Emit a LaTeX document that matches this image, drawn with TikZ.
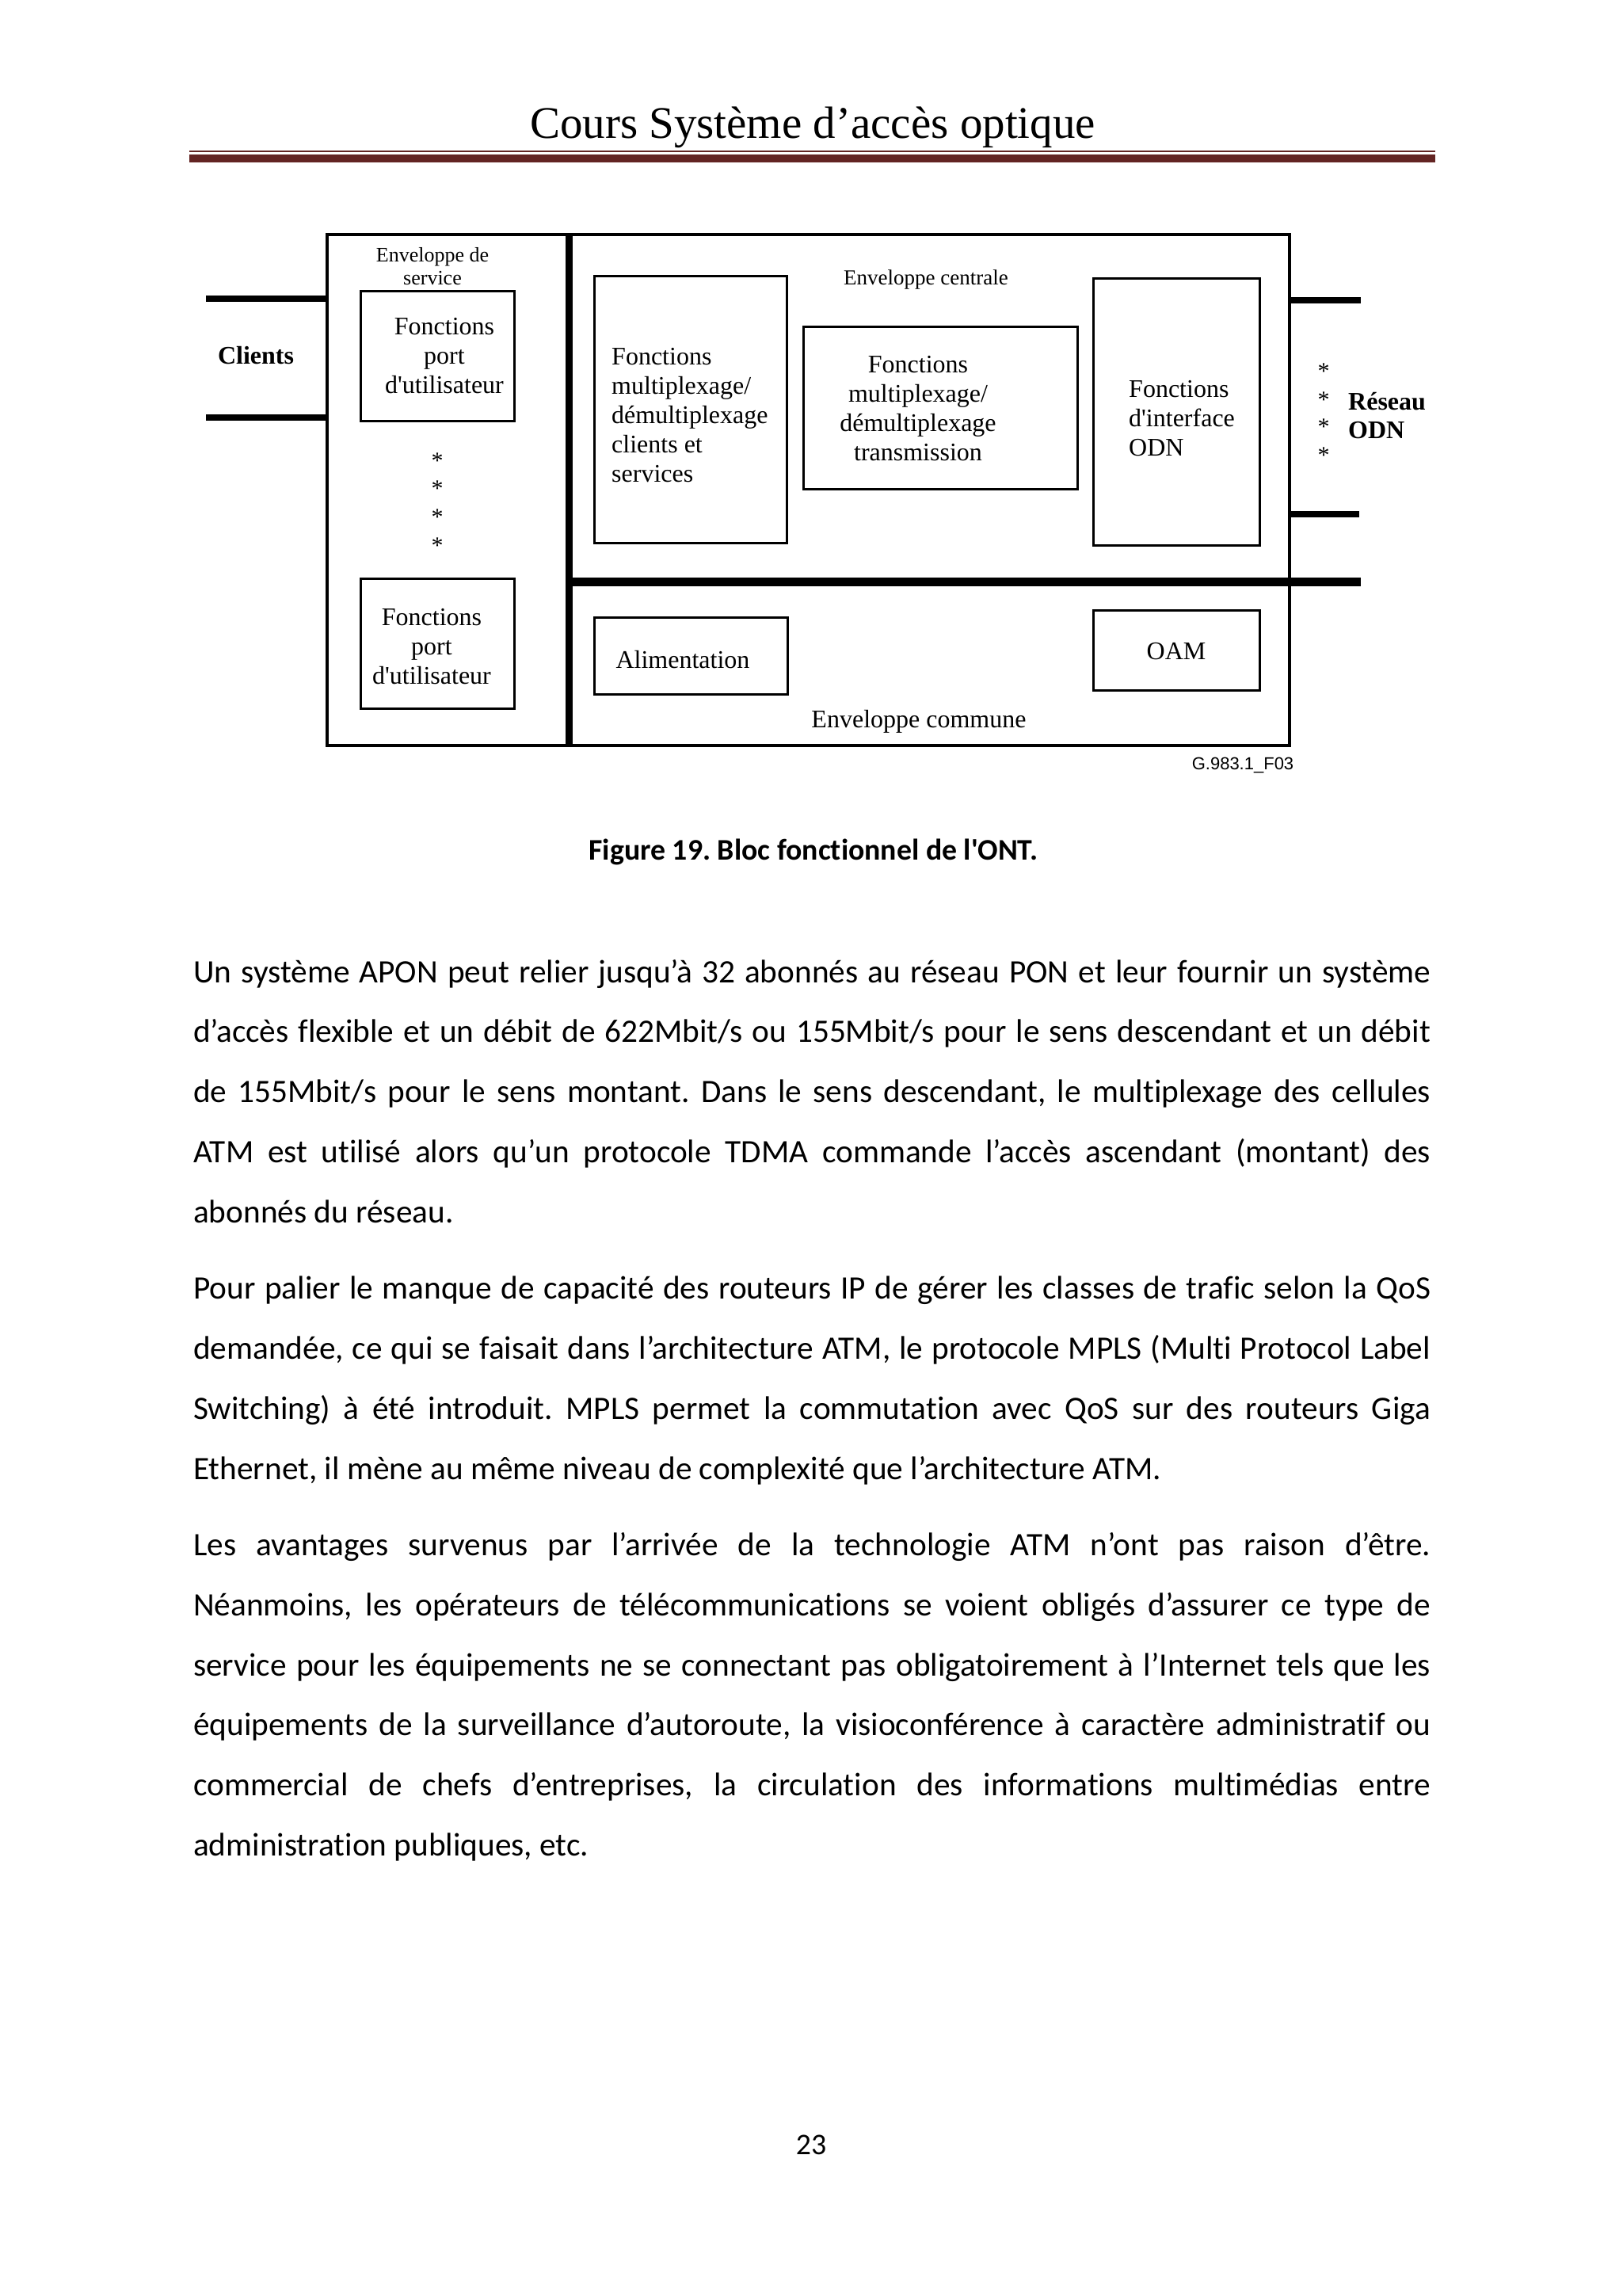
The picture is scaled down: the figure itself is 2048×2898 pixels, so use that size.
\documentclass[tikz,border=0pt]{standalone}
\usepackage{fontspec}
\setmainfont{Carlito}
\newfontfamily\calfont{Carlito}[Ligatures=NoCommon]
\newfontfamily\tnr{Liberation Serif}
\newfontfamily\arl{Liberation Sans}
\definecolor{hdrred}{HTML}{632423}
\begin{document}
\frenchspacing
\begin{tikzpicture}[x=1pt,y=-1pt,
  fbox/.style={draw=black, line width=3pt, inner sep=0pt},
  bar/.style={line width=8pt},
  dtext/.style={font=\tnr\fontsize{32}{37}\selectfont, inner sep=0pt},
  dbold/.style={font=\tnr\bfseries\fontsize{32}{36}\selectfont, inner sep=0pt},
  stardot/.style={font=\tnr\fontsize{30}{30}\selectfont, inner sep=0pt, anchor=base},
  bline/.style={font=\calfont\fontsize{41.3}{50}\selectfont, inner sep=0pt, anchor=base west},
]
\useasboundingbox (0,0) rectangle (2048,2898);
\fill[white] (0,0) rectangle (2048,2898);

% ---------- header ----------
\node[font=\tnr\fontsize{57}{60}\selectfont, inner sep=0pt, anchor=base] (title) at (1026,175) {Cours Système d’accès optique};
\coordinate (rl) at (239,191); \coordinate (rr) at (1812,191);
\draw[hdrred, line width=2.5pt] (rl) -- (rr);
\coordinate (Rl) at (239,200); \coordinate (Rr) at (1812,200);
\draw[hdrred, line width=10pt] (Rl) -- (Rr);

% ---------- diagram ----------
\node[draw=black, line width=4pt, inner sep=0pt, minimum width=1215pt, minimum height=645pt] (outer) at (1020.5,618.5) {};
\coordinate (dtop) at (718,296); \coordinate (dbot) at (718,941);
\draw[line width=9pt] (dtop) -- (dbot);
\coordinate (hl) at (718,734); \coordinate (hr) at (1718,734);
\draw[line width=11pt] (hl) -- (hr);

% client stubs
\coordinate (c1) at (260,377); \coordinate (c2) at (260,527);
\draw[bar] (c1) -- (c1 -| outer.west);
\draw[bar] (c2) -- (c2 -| outer.west);
% network stubs
\coordinate (r1) at (1718,379); \coordinate (r2) at (1716,649);
\draw[bar] (r1 -| outer.east) -- (r1);
\draw[bar] (r2 -| outer.east) -- (r2);

% boxes
\node[fbox, minimum width=194pt, minimum height=164pt] (up1) at (552,449) {};
\node[fbox, minimum width=194pt, minimum height=164pt] (up2) at (552,812) {};
\node[fbox, minimum width=243pt, minimum height=337pt] (muxc) at (871.5,516.5) {};
\node[fbox, minimum width=346pt, minimum height=205pt] (muxt) at (1187,514.5) {};
\node[fbox, minimum width=210pt, minimum height=337pt] (odni) at (1485,519.5) {};
\node[fbox, minimum width=244pt, minimum height=97pt] (alim) at (872,827.5) {};
\node[fbox, minimum width=210pt, minimum height=101pt] (oam) at (1485,820.5) {};

% texts
\node[dbold] (clients) at (323,449) {Clients};
\node[font=\tnr\fontsize{26}{29}\selectfont, inner sep=0pt, align=center] (envs) at (546,336) {Enveloppe de\\service};
\node[dtext, align=center] (up1t) at (561,449) {Fonctions\\port\\d'utilisateur};
\node[dtext, align=center] (up2t) at (545,816) {Fonctions\\port\\d'utilisateur};
\node[stardot] (s1) at (552,591) {*};
\node[stardot] (s2) at (552,626) {*};
\node[stardot] (s3) at (552,662) {*};
\node[stardot] (s4) at (552,698) {*};
\node[font=\tnr\fontsize{27}{30}\selectfont, inner sep=0pt] (envc) at (1169,353) {Enveloppe centrale};
\node[dtext, align=left, anchor=west] (muxct) at (772,524) {Fonctions\\multiplexage/\\démultiplexage\\clients et\\services};
\node[dtext, align=center] (muxtt) at (1159,516) {Fonctions\\multiplexage/\\démultiplexage\\transmission};
\node[dtext, align=left, anchor=west] (odnt) at (1425,528) {Fonctions\\d'interface\\ODN};
\node[stardot] (t1) at (1671,478) {*};
\node[stardot] (t2) at (1671,514) {*};
\node[stardot] (t3) at (1671,548) {*};
\node[stardot] (t4) at (1671,584) {*};
\node[dbold, align=left, anchor=west] (reseau) at (1702,525) {Réseau\\ODN};
\node[dtext] (alimt) at (862,833) {Alimentation};
\node[dtext] (oamt) at (1485,822) {OAM};
\node[dtext] (envcom) at (1160,911) {Enveloppe commune};
\node[font=\arl\fontsize{22}{24}\selectfont, inner sep=0pt] (gref) at (1569,966) {G.983.1\_F03};

% ---------- caption ----------
\node[font=\calfont\bfseries\fontsize{37.8}{44}\selectfont, inner sep=0pt, anchor=base] (cap) at (1027,1085) {Figure 19. Bloc fonctionnel de l'ONT.};

% ---------- body ----------
\node[bline] (p1a) at (244,1240.0) {\hbox to 1562pt{Un système APON peut relier jusqu’à 32 abonnés au réseau PON et leur fournir un système}};
\node[bline] (p1b) at (244,1315.8) {\hbox to 1562pt{d’accès flexible et un débit de 622Mbit/s ou 155Mbit/s pour le sens descendant et un débit}};
\node[bline] (p1c) at (244,1391.6) {\hbox to 1562pt{de 155Mbit/s pour le sens montant. Dans le sens descendant, le multiplexage des cellules}};
\node[bline] (p1d) at (244,1467.4) {\hbox to 1562pt{ATM est utilisé alors qu’un protocole TDMA commande l’accès ascendant (montant) des}};
\node[bline] (p1e) at (244,1543.2) {abonnés du réseau.};

\node[bline] (p2a) at (244,1639.6) {\hbox to 1562pt{Pour palier le manque de capacité des routeurs IP de gérer les classes de trafic selon la QoS}};
\node[bline] (p2b) at (244,1715.4) {\hbox to 1562pt{demandée, ce qui se faisait dans l’architecture ATM, le protocole MPLS (Multi Protocol Label}};
\node[bline] (p2c) at (244,1791.2) {\hbox to 1562pt{Switching) à été introduit. MPLS permet la commutation avec QoS sur des routeurs Giga}};
\node[bline] (p2d) at (244,1867.0) {Ethernet, il mène au même niveau de complexité que l’architecture ATM.};

\node[bline] (p3a) at (244,1963.4) {\hbox to 1562pt{Les avantages survenus par l’arrivée de la technologie ATM n’ont pas raison d’être.}};
\node[bline] (p3b) at (244,2039.2) {\hbox to 1562pt{Néanmoins, les opérateurs de télécommunications se voient obligés d’assurer ce type de}};
\node[bline] (p3c) at (244,2115.0) {\hbox to 1562pt{service pour les équipements ne se connectant pas obligatoirement à l’Internet tels que les}};
\node[bline] (p3d) at (244,2190.8) {\hbox to 1562pt{équipements de la surveillance d’autoroute, la visioconférence à caractère administratif ou}};
\node[bline] (p3e) at (244,2266.6) {\hbox to 1562pt{commercial de chefs d’entreprises, la circulation des informations multimédias entre}};
\node[bline] (p3f) at (244,2342.4) {administration publiques, etc.};

% ---------- page number ----------
\node[font=\calfont\fontsize{37.8}{44}\selectfont, inner sep=0pt, anchor=base] (pnum) at (1024,2719) {23};
\end{tikzpicture}
\end{document}
